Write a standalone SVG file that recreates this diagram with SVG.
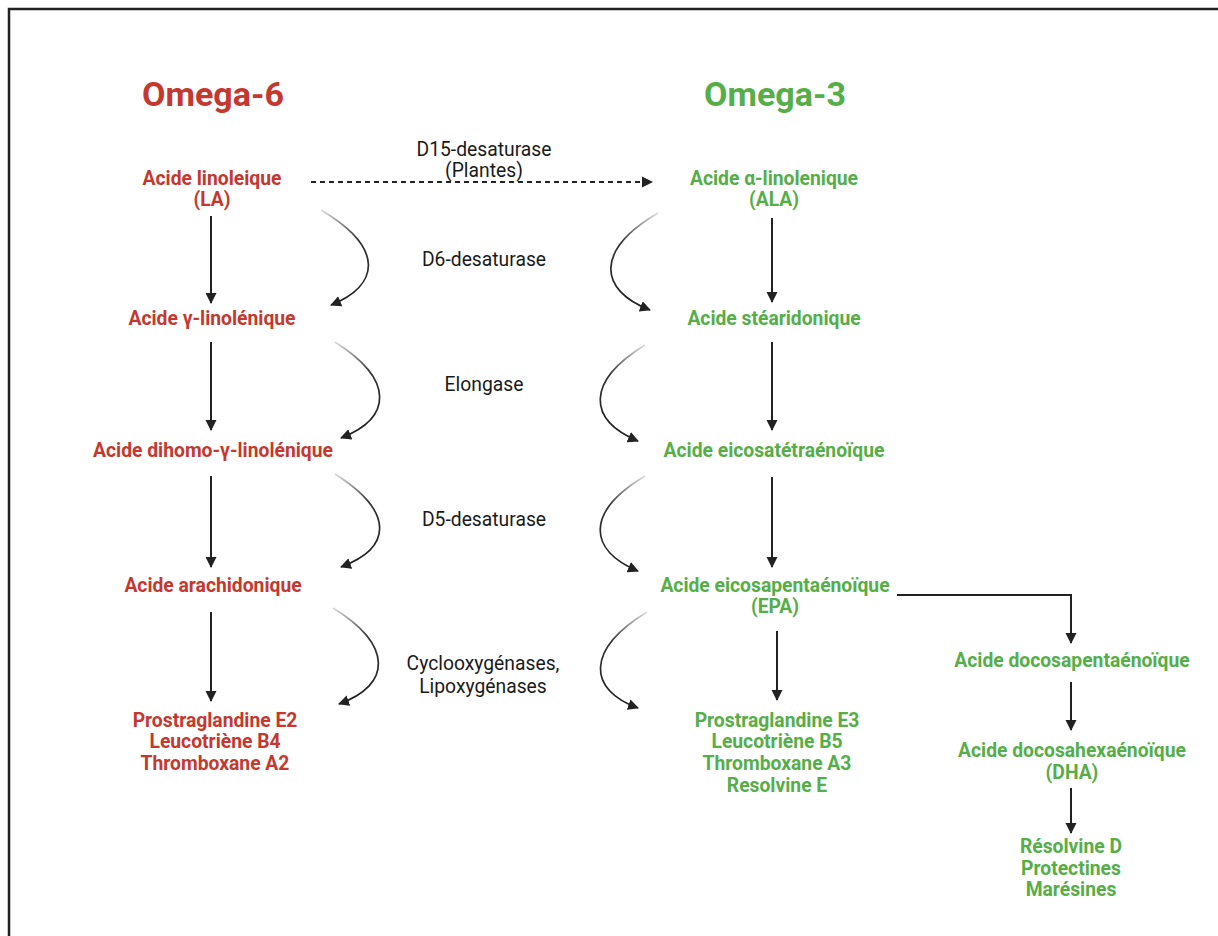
<svg xmlns="http://www.w3.org/2000/svg" width="1218" height="936" viewBox="0 0 1218 936">
<style>
.t{font-family:Roboto,"Liberation Sans",sans-serif;text-anchor:middle}
.red{fill:#c4382f;font-weight:bold;font-size:19.3px}
.grn{fill:#55ae47;font-weight:bold;font-size:19.3px}
.ttl{font-size:34px;font-weight:bold}
.enz{fill:#1a1a1a;font-size:19.3px}
.ln{stroke:#222;stroke-width:2;fill:none}
.cv{stroke:url(#fade);stroke-width:1.7;fill:none}
</style>
<defs>
<marker id="ah" markerWidth="12" markerHeight="12" refX="10" refY="6" orient="auto" markerUnits="userSpaceOnUse">
<path d="M0,0.5 L11,6 L0,11.5 Z" fill="#222"/>
</marker>
<linearGradient id="fade" x1="0" y1="0" x2="0" y2="1">
<stop offset="0" stop-color="#dcdcdc"/>
<stop offset="0.3" stop-color="#333"/>
<stop offset="1" stop-color="#1e1e1e"/>
</linearGradient>
</defs>
<rect x="9" y="9" width="1240" height="960" fill="#fff" stroke="#222" stroke-width="2.5"/>

<g id="title-omega6"><text class="t ttl" x="213" y="106" fill="#c4382f">Omega-6</text></g>
<g id="title-omega3"><text class="t ttl" x="775" y="106" fill="#55ae47">Omega-3</text></g>

<g id="la"><text class="t red" x="212" y="185">Acide linoleique</text><text class="t red" x="212" y="206">(LA)</text></g>
<g id="gla"><text class="t red" x="212" y="325">Acide γ-linolénique</text></g>
<g id="dgla"><text class="t red" x="213" y="457">Acide dihomo-γ-linolénique</text></g>
<g id="aa"><text class="t red" x="213" y="592">Acide arachidonique</text></g>
<g id="o6-products"><text class="t red" x="215" y="727">Prostraglandine E2</text><text class="t red" x="215" y="748">Leucotriène B4</text><text class="t red" x="215" y="770">Thromboxane A2</text></g>

<g id="ala"><text class="t grn" x="774" y="185">Acide α-linolenique</text><text class="t grn" x="774" y="206">(ALA)</text></g>
<g id="sda"><text class="t grn" x="774" y="325">Acide stéaridonique</text></g>
<g id="eta"><text class="t grn" x="774" y="457">Acide eicosatétraénoïque</text></g>
<g id="epa"><text class="t grn" x="775" y="592">Acide eicosapentaénoïque</text><text class="t grn" x="775" y="613">(EPA)</text></g>
<g id="o3-products"><text class="t grn" x="777" y="727">Prostraglandine E3</text><text class="t grn" x="777" y="748">Leucotriène B5</text><text class="t grn" x="777" y="770">Thromboxane A3</text><text class="t grn" x="777" y="792">Resolvine E</text></g>
<g id="dpa"><text class="t grn" x="1072" y="667">Acide docosapentaénoïque</text></g>
<g id="dha"><text class="t grn" x="1072" y="757">Acide docosahexaénoïque</text><text class="t grn" x="1072" y="779">(DHA)</text></g>
<g id="dha-products"><text class="t grn" x="1071" y="853">Résolvine D</text><text class="t grn" x="1071" y="875">Protectines</text><text class="t grn" x="1071" y="896">Marésines</text></g>

<g id="enzymes">
<text class="t enz" x="484" y="156">D15-desaturase</text><text class="t enz" x="484" y="177">(Plantes)</text>
<text class="t enz" x="484" y="266">D6-desaturase</text>
<text class="t enz" x="484" y="391">Elongase</text>
<text class="t enz" x="484" y="526">D5-desaturase</text>
<text class="t enz" x="483" y="670">Cyclooxygénases,</text><text class="t enz" x="483" y="693">Lipoxygénases</text>
</g>

<g id="connectors">
<path class="ln" d="M311,182 H652" stroke-dasharray="5,4" marker-end="url(#ah)"/>
<path class="ln" d="M211,216 V303" marker-end="url(#ah)"/>
<path class="ln" d="M211,342 V430" marker-end="url(#ah)"/>
<path class="ln" d="M211,476 V567" marker-end="url(#ah)"/>
<path class="ln" d="M211,612 V701" marker-end="url(#ah)"/>
<path class="ln" d="M772,218 V302" marker-end="url(#ah)"/>
<path class="ln" d="M772,342 V430" marker-end="url(#ah)"/>
<path class="ln" d="M772,477 V567" marker-end="url(#ah)"/>
<path class="ln" d="M777,631 V700" marker-end="url(#ah)"/>
<path class="ln" d="M897,595 H1071 V643" marker-end="url(#ah)"/>
<path class="ln" d="M1071,682 V730" marker-end="url(#ah)"/>
<path class="ln" d="M1071,788 V833" marker-end="url(#ah)"/>

<path class="cv" d="M321,210 C385,248 380,285 331,305" marker-end="url(#ah)"/>
<path class="cv" d="M335,342 C395,380 392,418 341,438" marker-end="url(#ah)"/>
<path class="cv" d="M335,474 C395,512 392,548 341,567" marker-end="url(#ah)"/>
<path class="cv" d="M333,608 C393,645 392,685 339,704" marker-end="url(#ah)"/>

<path class="cv" d="M658,213 C595,250 598,290 650,310" marker-end="url(#ah)"/>
<path class="cv" d="M645,345 C585,382 588,420 638,441" marker-end="url(#ah)"/>
<path class="cv" d="M645,476 C585,512 588,550 638,571" marker-end="url(#ah)"/>
<path class="cv" d="M647,612 C585,650 588,690 638,708" marker-end="url(#ah)"/>
</g>
</svg>
